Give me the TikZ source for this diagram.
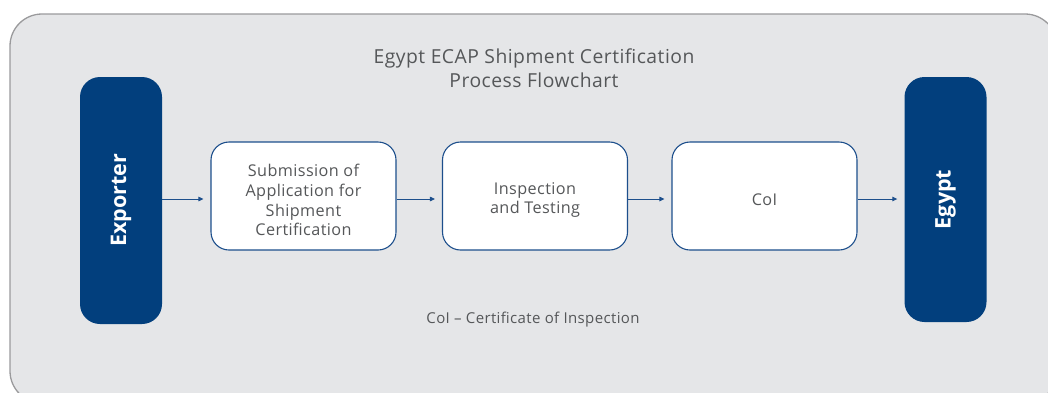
\documentclass[tikz,border=0pt]{standalone}
\usepackage{fontspec}
\setmainfont{Open Sans}
\newfontfamily\widefont[LetterSpace=2.5]{Open Sans}
\newfontfamily\widebold[LetterSpace=2]{Open Sans Bold}
\usetikzlibrary{arrows.meta}
\definecolor{bg}{HTML}{E5E6E8}
\definecolor{frame}{HTML}{9A9A9C}
\definecolor{navy}{HTML}{023F7D}
\definecolor{edge}{HTML}{1D4F8C}
\definecolor{txt}{HTML}{555759}
\tikzset{
  bar/.style={fill=navy, draw=none, rounded corners=20pt, minimum width=82pt, inner sep=0pt},
  bartext/.style={text=white, font=\bfseries\fontsize{21.5}{24}\selectfont, rotate=90},
  stepbox/.style={draw=edge, line width=1.1pt, fill=white, rounded corners=18pt,
    minimum width=185pt, minimum height=108pt, inner sep=0pt},
  steptext/.style={align=center, text=txt, font=\widefont\fontsize{16.2}{19.8}\selectfont},
  arr/.style={draw=edge, line width=0.9pt, -{Triangle[length=5pt,width=4.5pt]}, shorten >=7pt}
}
\begin{document}
\begin{tikzpicture}[x=1pt,y=-1pt]
\useasboundingbox (0,0) rectangle (1048,392);
\clip (0,0) rectangle (1048,392);
\draw[fill=bg, draw=frame, line width=1.3pt, rounded corners=32pt] (10,14) rectangle (1057,403);
\node[text=txt, align=center, font=\widefont\fontsize{19.3}{24}\selectfont] (title) at (534,68)
  {Egypt ECAP Shipment Certification\\Process Flowchart};
\node[bar, minimum height=247pt] (exp) at (121,200.5) {};
\node[bartext] (expt) at (exp) {Exporter};
\node[bar, minimum height=245pt] (egy) at (945.5,199.5) {};
\node[bartext] (egyt) at (egy) {Egypt};
\node[stepbox] (b1) at (303.5,196) {};
\node[steptext] (b1t) at ([yshift=-4pt]b1.center) {Submission of\\Application for\\Shipment\\Certification};
\node[stepbox] (b2) at (535,196) {};
\node[steptext] (b2t) at ([yshift=-4pt]b2.center) {Inspection\\and Testing};
\node[stepbox] (b3) at (764.5,196) {};
\node[steptext] (b3t) at ([yshift=-4pt]b3.center) {CoI};
\node[text=txt, font=\widefont\fontsize{15}{16}\selectfont] (note) at (533,319.5) {CoI – Certificate of Inspection};
\draw[arr] ([yshift=-3pt]exp.east |- b1.west) -- ([yshift=-3pt]b1.west);
\draw[arr] ([yshift=-3pt]b1.east) -- ([yshift=-3pt]b2.west);
\draw[arr] ([yshift=-3pt]b2.east) -- ([yshift=-3pt]b3.west);
\draw[arr] ([yshift=-3pt]b3.east) -- ([yshift=-3pt]egy.west |- b3.east);
\end{tikzpicture}
\end{document}
